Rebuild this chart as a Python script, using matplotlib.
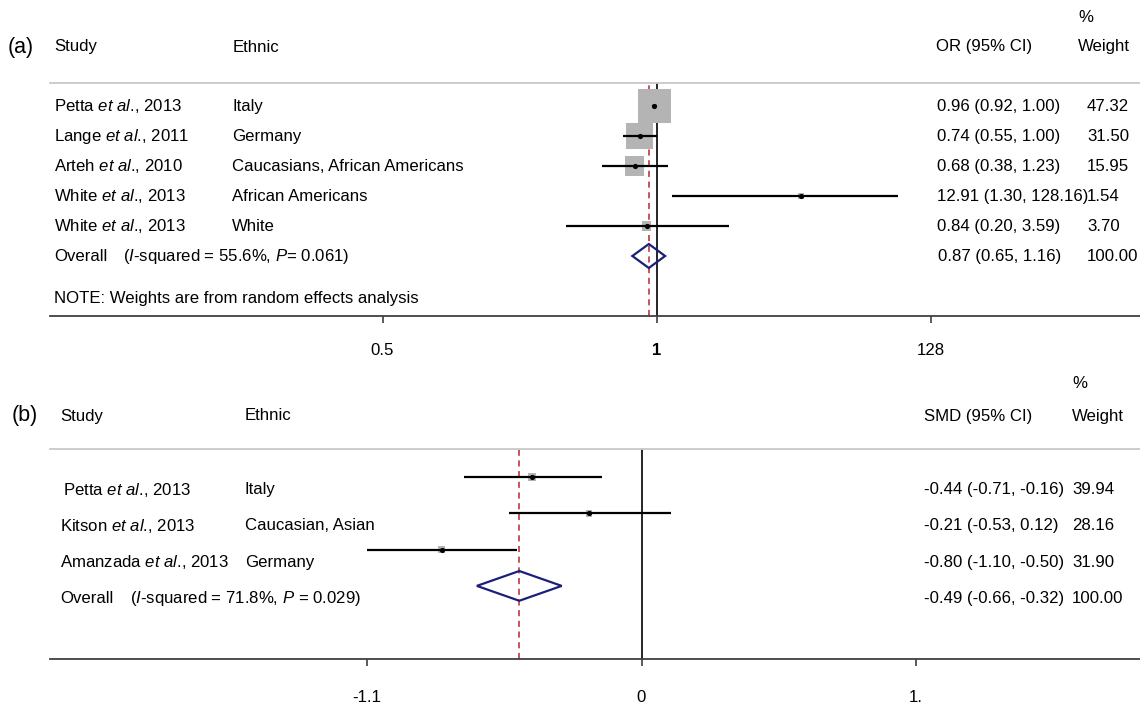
import numpy as np
import matplotlib
matplotlib.use("Agg")
import matplotlib.pyplot as plt
from matplotlib import transforms
from matplotlib.patches import Polygon

# ---------------- data ----------------
# Panel (a): OR
studies_a = ["Petta", "Lange", "Arteh", "White", "White"]
years_a = [2013, 2011, 2010, 2013, 2013]
ethnic_a = ["Italy", "Germany", "Caucasians, African Americans", "African Americans", "White"]
or_est = [0.96, 0.74, 0.68, 12.91, 0.84]
or_lo = [0.92, 0.55, 0.38, 1.30, 0.20]
or_hi = [1.00, 1.00, 1.23, 128.16, 3.59]
weight_a = [47.32, 31.50, 15.95, 1.54, 3.70]
overall_a = [0.87, 0.65, 1.16]
overall_weight_a = 100.00
i2_a, p_a = 55.6, 0.061
ticks_a = [1 / 128, 1, 128]
ticklabels_a = ["0.5", "1", "128"]

# Panel (b): SMD
studies_b = ["Petta", "Kitson", "Amanzada"]
years_b = [2013, 2013, 2013]
ethnic_b = ["Italy", "Caucasian, Asian", "Germany"]
smd_est = [-0.44, -0.21, -0.80]
smd_lo = [-0.71, -0.53, -1.10]
smd_hi = [-0.16, 0.12, -0.50]
weight_b = [39.94, 28.16, 31.90]
overall_b = [-0.49, -0.66, -0.32]
overall_weight_b = 100.00
i2_b, p_b = 71.8, 0.029
ticks_b = [-1.1, 0, 1.1]
ticklabels_b = ["-1.1", "0", "1."]

# ---------------- style ----------------
plt.rcParams['font.family'] = ['Liberation Sans', 'DejaVu Sans']
plt.rcParams['mathtext.fontset'] = 'custom'
plt.rcParams['mathtext.rm'] = 'Liberation Sans'
plt.rcParams['mathtext.it'] = 'Liberation Sans:italic'
plt.rcParams['mathtext.bf'] = 'Liberation Sans:bold'

FS = 12.1
BOX = '#b4b4b4'
NAVY = '#1b1f7a'
RED = '#b5272d'
RULE = '#c8c8c8'
AXC = '#404040'

W, H = 1140, 705
fig = plt.figure(figsize=(W / 100, H / 100), dpi=100)


def px_axes(x0, y0, x1, y1):
    return fig.add_axes([x0 / W, 1 - y1 / H, (x1 - x0) / W, (y1 - y0) / H])


def ftext(x, y, s, **kw):
    kw.setdefault('fontsize', FS)
    fig.text(x / W, 1 - y / H, s, ha='left', va='center', **kw)


def study_label(name, year):
    return f"{name} $\\mathit{{et\\ al}}$., {year}"


def style_axes(ax, ticks, labels, pad):
    for s in ['left', 'right']:
        ax.spines[s].set_visible(False)
    ax.spines['top'].set_color(RULE)
    ax.spines['top'].set_linewidth(1.3)
    ax.spines['bottom'].set_color(AXC)
    ax.spines['bottom'].set_linewidth(1.3)
    ax.set_yticks([])
    ax.set_xticks(ticks)
    ax.set_xticklabels(labels)
    ax.xaxis.set_minor_locator(matplotlib.ticker.NullLocator())
    ax.tick_params(axis='x', direction='out', length=5, width=1.2, color=AXC,
                   pad=pad, labelsize=FS)
    ax.patch.set_alpha(0)


# ================= Panel (a) =================
axa = px_axes(50, 83, 1140, 316)
axa.set_xscale('log')
axa.set_xlim(np.exp(-10.738), np.exp(8.554))
axa.set_ylim(7.0, -0.767)
style_axes(axa, ticks_a, ticklabels_a, 14.5)
axa.get_xticklabels()[1].set_fontweight('bold')

rows_a = np.arange(len(or_est))
ov_row_a = len(or_est)
axa.axvline(1, color='black', lw=1.2, zorder=1)
axa.axvline(overall_a[0], color=RED, lw=1.1, ls=(0, (4, 3)), zorder=1)

side_a = 4.8 * np.sqrt(weight_a) * 0.72
axa.scatter(or_est, rows_a, marker='s', s=side_a ** 2, color=BOX, linewidths=0, zorder=2)
ci_clip = 72
axa.hlines(rows_a, or_lo, np.minimum(or_hi, ci_clip), color='black', lw=1.6, zorder=3)
axa.scatter(or_est, rows_a, s=14, color='black', linewidths=0, zorder=4)
e, l, h = overall_a
axa.add_patch(Polygon([(l, ov_row_a), (e, ov_row_a - 0.4), (h, ov_row_a), (e, ov_row_a + 0.4)],
                      closed=True, fill=False, ec=NAVY, lw=1.6, zorder=4))

ta = transforms.blended_transform_factory(fig.transFigure, axa.transData)
for i in range(len(or_est)):
    kw = dict(transform=ta, fontsize=FS, va='center', ha='left')
    axa.text(54 / W, i, study_label(studies_a[i], years_a[i]), **kw)
    axa.text(232 / W, i, ethnic_a[i], **kw)
    axa.text(937 / W, i, f"{or_est[i]:.2f} ({or_lo[i]:.2f}, {or_hi[i]:.2f})", **kw)
    axa.text(1087 / W, i, f"{weight_a[i]:.2f}", **kw)
kw = dict(transform=ta, fontsize=FS, va='center', ha='left')
axa.text(54 / W, ov_row_a, "Overall", **kw)
axa.text(123 / W, ov_row_a, f"($\\mathit{{I}}$-squared = {i2_a}%, $\\mathit{{P}}$= {p_a:.3f})", **kw)
axa.text(938 / W, ov_row_a, f"{e:.2f} ({l:.2f}, {h:.2f})", **kw)
axa.text(1087 / W, ov_row_a, f"{overall_weight_a:.2f}", **kw)
axa.text(54 / W, 6.43, "NOTE: Weights are from random effects analysis", **kw)

ftext(8, 47, "(a)", fontsize=15.5)
ftext(54, 47, "Study")
ftext(233, 47, "Ethnic")
ftext(936, 47, "OR (95% CI)")
ftext(1078, 47, "Weight")
ftext(1078, 17, "%")

# ================= Panel (b) =================
axb = px_axes(50, 449, 1140, 659)
axb.set_xlim(-2.371, 1.998)
axb.set_ylim(5.014, -0.771)
style_axes(axb, ticks_b, ticklabels_b, 17)

rows_b = np.arange(len(smd_est))
ov_row_b = len(smd_est)
txt_off = 0.35
axb.axvline(0, color='black', lw=1.2, zorder=1)
axb.axvline(overall_b[0], color=RED, lw=1.1, ls=(0, (4, 3)), zorder=1)

side_b = 1.25 * np.sqrt(weight_b) * 0.72
axb.scatter(smd_est, rows_b, marker='s', s=side_b ** 2, color=BOX, linewidths=0, zorder=2)
axb.hlines(rows_b, smd_lo, smd_hi, color='black', lw=1.6, zorder=3)
axb.scatter(smd_est, rows_b, s=14, color='black', linewidths=0, zorder=4)
e, l, h = overall_b
axb.add_patch(Polygon([(l, ov_row_b), (e, ov_row_b - 0.41), (h, ov_row_b), (e, ov_row_b + 0.41)],
                      closed=True, fill=False, ec=NAVY, lw=1.6, zorder=4))

tb = transforms.blended_transform_factory(fig.transFigure, axb.transData)
for i in range(len(smd_est)):
    kw = dict(transform=tb, fontsize=FS, va='center', ha='left')
    axb.text((63 if i == 0 else 60) / W, i + txt_off, study_label(studies_b[i], years_b[i]), **kw)
    axb.text(245 / W, i + txt_off, ethnic_b[i], **kw)
    axb.text(924 / W, i + txt_off, f"{smd_est[i]:.2f} ({smd_lo[i]:.2f}, {smd_hi[i]:.2f})", **kw)
    axb.text(1072 / W, i + txt_off, f"{weight_b[i]:.2f}", **kw)
kw = dict(transform=tb, fontsize=FS, va='center', ha='left')
axb.text(60 / W, ov_row_b + txt_off, "Overall", **kw)
axb.text(130 / W, ov_row_b + txt_off, f"($\\mathit{{I}}$-squared = {i2_b}%, $\\mathit{{P}}$ = {p_b:.3f})", **kw)
axb.text(924 / W, ov_row_b + txt_off, f"{e:.2f} ({l:.2f}, {h:.2f})", **kw)
axb.text(1072 / W, ov_row_b + txt_off, f"{overall_weight_b:.2f}", **kw)

ftext(12, 416, "(b)", fontsize=15.5)
ftext(60, 416, "Study")
ftext(245, 416, "Ethnic")
ftext(924, 416, "SMD (95% CI)")
ftext(1072, 416, "Weight")
ftext(1072, 383, "%")

fig.savefig("out.png", dpi=100)
